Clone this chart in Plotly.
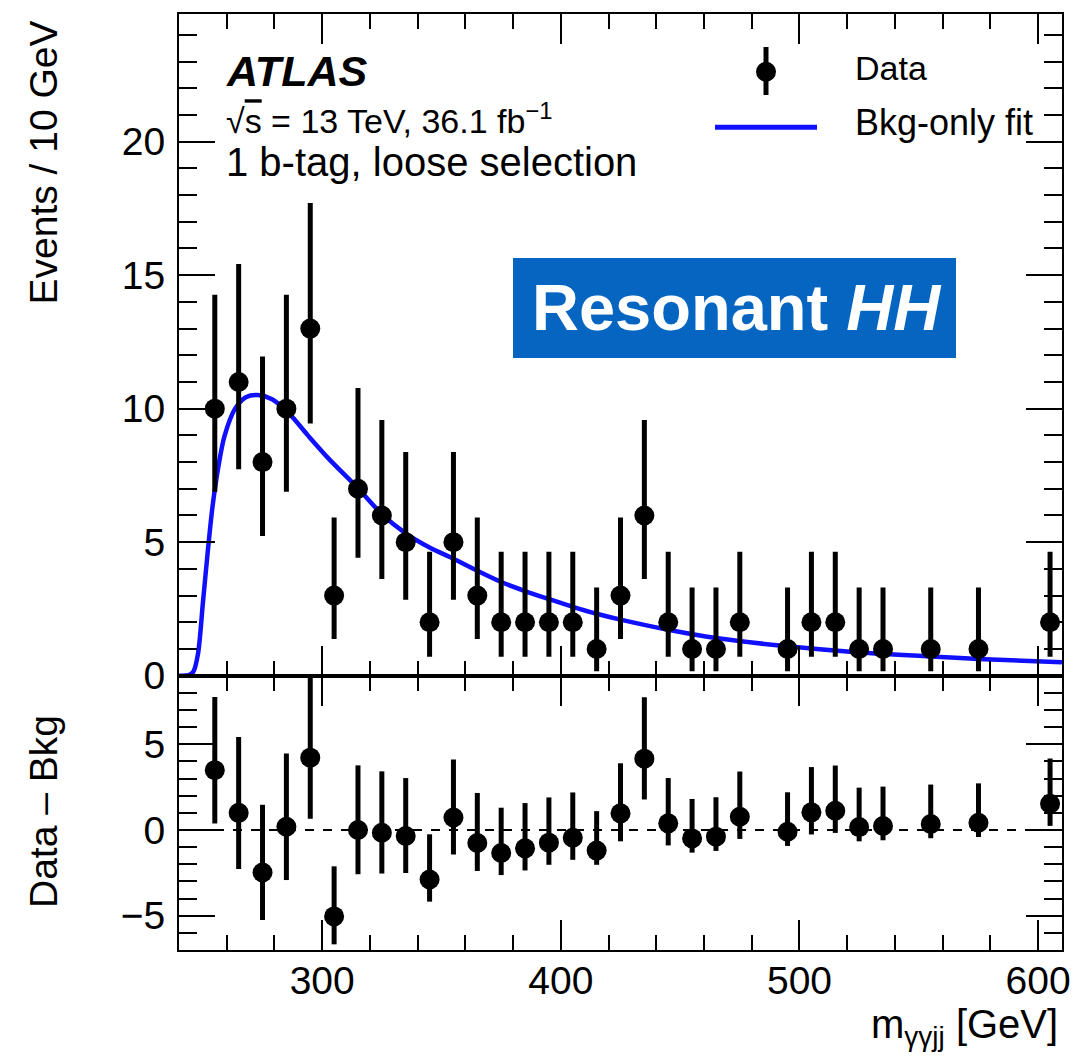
import plotly.graph_objects as go

# ---------------- data ----------------
bin_centers = [255, 265, 275, 285, 295, 305, 315, 325, 335, 345, 355, 365, 375, 385, 395, 405,
               415, 425, 435, 445, 455, 465, 475, 495, 505, 515, 525, 535, 555, 575, 605]
events = [10, 11, 8, 10, 13, 3, 7, 6, 5, 2, 5, 3, 2, 2, 2, 2,
          1, 3, 6, 2, 1, 1, 2, 1, 2, 2, 1, 1, 1, 1, 2]
err_up = [4.27, 4.42, 3.95, 4.27, 4.70, 2.92, 3.77, 3.58, 3.38, 2.64, 3.38, 2.92, 2.64, 2.64, 2.64, 2.64,
          2.30, 2.92, 3.58, 2.64, 2.30, 2.30, 2.64, 2.30, 2.64, 2.64, 2.30, 2.30, 2.30, 2.30, 2.64]
err_down = [3.11, 3.27, 2.77, 3.11, 3.56, 1.63, 2.58, 2.38, 2.16, 1.29, 2.16, 1.63, 1.29, 1.29, 1.29, 1.29,
            0.83, 1.63, 2.38, 1.29, 0.83, 0.83, 1.29, 0.83, 1.29, 1.29, 0.83, 0.83, 0.83, 0.83, 1.29]
data_minus_bkg = [3.49, 1.0, -2.48, 0.19, 4.22, -5.04, 0.0, -0.16, -0.35, -2.89, 0.73, -0.76, -1.34, -1.07,
                  -0.74, -0.45, -1.2, 0.97, 4.16, 0.39, -0.49, -0.39, 0.77, -0.1, 1.03, 1.12, 0.17, 0.23,
                  0.35, 0.42, 1.53]

fit_x = [240, 244, 246, 248, 250, 252, 254, 256.5, 259, 263.5, 268, 273, 279, 286, 294, 303, 315, 325,
         335, 345, 355, 365, 375, 385, 395, 405, 415, 425, 445, 465, 495, 525, 555, 575, 610]
fit_y = [0, 0.02, 0.15, 0.84, 2.71, 4.6, 6.3, 7.83, 8.95, 10.0, 10.43, 10.51, 10.35, 9.83, 9.0, 8.1,
         7.02, 6.05, 5.33, 4.80, 4.38, 3.93, 3.51, 3.17, 2.87, 2.58, 2.32, 2.10, 1.72, 1.41, 1.10, 0.87,
         0.72, 0.63, 0.50]

x_range = [240, 610]
y_top_range = [0, 24.78]
y_bot_range = [-7, 9]
x_ticks = [300, 400, 500, 600]

# ---------------- layout geometry (pixels) ----------------
W, H = 1085, 1056
FONT = "Liberation Sans, Arial, Helvetica, sans-serif"


def px(x):
    return x / W


def py(y):
    return 1 - y / H


fig = go.Figure()

fig.add_trace(go.Scatter(
    x=fit_x, y=fit_y, mode="lines", line=dict(color="#1010ff", width=4.5, shape="spline", smoothing=0.8),
    xaxis="x", yaxis="y", showlegend=False, hoverinfo="skip"))

fig.add_trace(go.Scatter(
    x=bin_centers, y=events, mode="markers",
    marker=dict(color="black", size=20),
    error_y=dict(type="data", symmetric=False, array=err_up, arrayminus=err_down,
                 color="black", thickness=5, width=0),
    xaxis="x", yaxis="y", showlegend=False))

fig.add_trace(go.Scatter(
    x=bin_centers, y=data_minus_bkg, mode="markers",
    marker=dict(color="black", size=20),
    error_y=dict(type="data", symmetric=False, array=err_up, arrayminus=err_down,
                 color="black", thickness=5, width=0),
    xaxis="x2", yaxis="y2", showlegend=False, cliponaxis=True))

axis_common = dict(showline=True, linecolor="black", linewidth=2, mirror="allticks", automargin=False,
                   ticks="inside", tickcolor="black", tickwidth=1.5, showgrid=False, zeroline=False,
                   tickfont=dict(family=FONT, size=39, color="black"))

x_dom = [px(179), px(1062)]
fig.update_layout(
    width=W, height=H, margin=dict(l=0, r=0, t=0, b=0, autoexpand=False),
    paper_bgcolor="white", plot_bgcolor="white",
    xaxis=dict(domain=x_dom, range=x_range, anchor="y", tickvals=x_ticks, ticklen=30,
               showticklabels=False,
               minor=dict(ticks="inside", dtick=20, tick0=0, ticklen=15, tickwidth=1.5, tickcolor="black"),
               **axis_common),
    yaxis=dict(domain=[py(675.7), py(14)], range=y_top_range, anchor="x", dtick=5, tick0=0, ticklen=36,
               ticklabelstandoff=4,
               minor=dict(ticks="inside", dtick=1, tick0=0, ticklen=18, tickwidth=1.5, tickcolor="black"),
               **axis_common),
    xaxis2=dict(domain=x_dom, range=x_range, anchor="y2", tickvals=x_ticks, ticklen=30, matches="x",
                ticklabelstandoff=-5,
                minor=dict(ticks="inside", dtick=20, tick0=0, ticklen=15, tickwidth=1.5, tickcolor="black"),
                **axis_common),
    yaxis2=dict(domain=[py(950), py(675.7)], range=y_bot_range, anchor="x2", dtick=5, tick0=0, ticklen=36,
                ticklabelstandoff=4,
                minor=dict(ticks="inside", dtick=1, tick0=0, ticklen=18, tickwidth=1.5, tickcolor="black"),
                **axis_common),
)

shapes = [
    # dashed zero line in the ratio panel
    dict(type="line", xref="x2 domain", yref="y2", x0=0, x1=1, y0=0, y1=0,
         line=dict(color="black", width=2, dash="dash")),
    # Resonant HH box
    dict(type="rect", xref="paper", yref="paper", x0=px(513), x1=px(956), y0=py(358), y1=py(258),
         fillcolor="#0565c0", line=dict(width=0), layer="above"),
    # legend glyphs
    dict(type="line", xref="paper", yref="paper", x0=px(766), x1=px(766), y0=py(47), y1=py(95),
         line=dict(color="black", width=5)),
    dict(type="circle", xref="paper", yref="paper", x0=px(756), x1=px(776), y0=py(81.7), y1=py(61.7),
         fillcolor="black", line=dict(color="black", width=0)),
    dict(type="line", xref="paper", yref="paper", x0=px(715), x1=px(817), y0=py(127.3), y1=py(127.3),
         line=dict(color="#1010ff", width=5)),
]
fig.update_layout(shapes=shapes)


def ann(text, x, y, size, xanchor="left", yanchor="middle", color="black", angle=0):
    return dict(text=text, xref="paper", yref="paper", x=px(x), y=py(y), xanchor=xanchor,
                yanchor=yanchor, showarrow=False, textangle=angle,
                font=dict(family=FONT, size=size, color=color))


annotations = [
    ann("<b><i>ATLAS</i></b>", 224, 71, 43),
    ann("√<span style='text-decoration:overline'>s</span> = 13 TeV, 36.1 fb<sup>−1</sup>", 224, 119, 34),
    ann("1 b-tag, loose selection", 224, 162, 40),
    ann("Data", 853, 68, 34),
    ann("Bkg-only fit", 853, 123, 36),
    ann("<b>Resonant <i>HH</i></b>", 737, 307, 65, xanchor="center", color="white"),
    ann("Events / 10 GeV", 43, 162.5, 39, xanchor="center", angle=-90),
    ann("Data – Bkg", 43, 812, 39, xanchor="center", angle=-90),
    ann("m<sub>γγjj</sub> [GeV]", 1060, 1027, 40, xanchor="right"),
]
fig.update_layout(annotations=annotations)

fig.write_html("out.html")
